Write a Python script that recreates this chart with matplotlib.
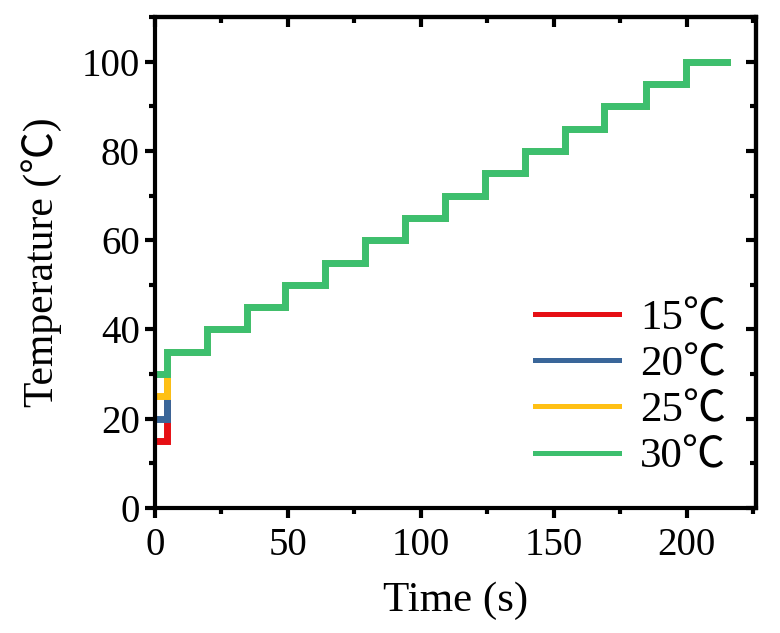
import matplotlib
matplotlib.use("Agg")
import matplotlib.pyplot as plt

# temperature program
series_labels = ['15℃', '20℃', '25℃', '30℃']
start_temps = [15, 20, 25, 30]
series_colors = ['#e60f14', '#3a6699', '#ffc014', '#3dbf6e']
start_time = 0.5
step_times = [4.5, 19.5, 34.5, 49, 64, 79, 94, 109, 124, 139, 154, 169, 184.5, 199.5, 215]
step_levels = [35, 40, 45, 50, 55, 60, 65, 70, 75, 80, 85, 90, 95, 100, 100]

x_ticks = [0, 50, 100, 150, 200]
y_ticks = [0, 20, 40, 60, 80, 100]
x_minor = [25, 75, 125, 175, 225]
y_minor = [10, 30, 50, 70, 90, 110]

serif = ['Liberation Serif', 'Noto Sans CJK SC', 'DejaVu Sans']

fig = plt.figure(figsize=(7.8, 6.33), dpi=100)
ax = fig.add_axes([0.1987, 0.1975, 0.7705, 0.7755])

for lab, t0, col in zip(series_labels, start_temps, series_colors):
    xs = [start_time] + step_times
    ys = [t0] + step_levels
    ax.plot(xs, ys, drawstyle='steps-post', color=col, lw=5, label=lab,
            solid_joinstyle='miter')

ax.set_xlim(0, 226)
ax.set_ylim(0, 110)
ax.set_xticks(x_ticks)
ax.set_yticks(y_ticks)
ax.set_xticks(x_minor, minor=True)
ax.set_yticks(y_minor, minor=True)
ax.tick_params(which='major', direction='out', length=7, width=3)
ax.tick_params(which='minor', direction='out', length=4, width=3)
ax.tick_params(axis='x', which='major', pad=7)
ax.tick_params(axis='y', which='major', pad=4)
for lbl in ax.get_xticklabels() + ax.get_yticklabels():
    lbl.set_family(serif)
    lbl.set_fontsize(28)

for sp in ax.spines.values():
    sp.set_linewidth(3)

# mirrored ticks pointing inward on top and right
top = ax.secondary_xaxis('top')
top.set_xticks(x_ticks)
top.set_xticks(x_minor, minor=True)
top.tick_params(which='major', direction='in', length=7, width=3, labeltop=False)
top.tick_params(which='minor', direction='in', length=4, width=3)
top.spines['top'].set_linewidth(3)
right = ax.secondary_yaxis('right')
right.set_yticks(y_ticks)
right.set_yticks(y_minor, minor=True)
right.tick_params(which='major', direction='in', length=7, width=3, labelright=False)
right.tick_params(which='minor', direction='in', length=4, width=3)
right.spines['right'].set_linewidth(3)

ax.set_xlabel('Time (s)', family=serif, fontsize=31, labelpad=12)
ax.set_ylabel('Temperature (℃)', family=serif, fontsize=30, labelpad=14)

leg = ax.legend(loc='lower right', bbox_to_anchor=(1.015, -0.015), frameon=False,
                prop={'family': serif, 'size': 31}, handlelength=1.95,
                handletextpad=0.5, labelspacing=0.16)
for h in leg.get_lines():
    h.set_linewidth(3.6)

fig.savefig('out.png', dpi=100)
